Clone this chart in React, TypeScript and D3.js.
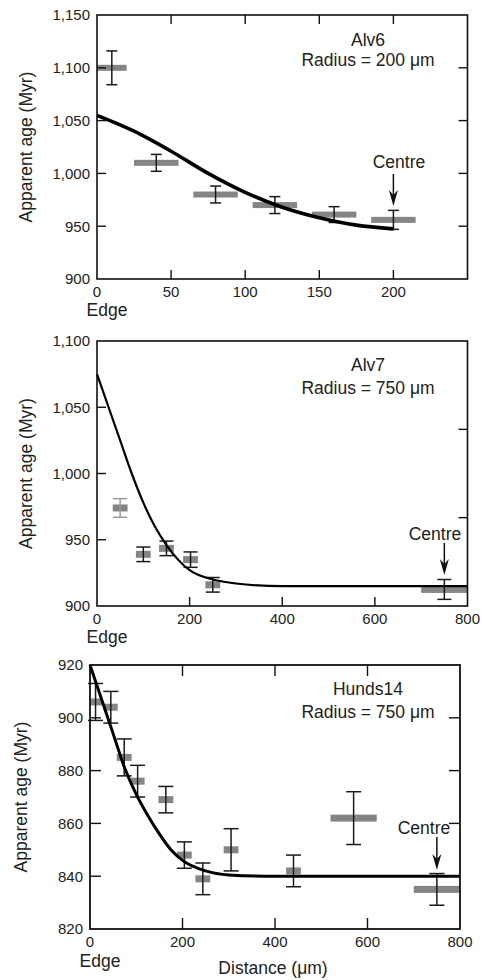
import React from "react";
import * as d3 from "d3";

// ---------- Data: Alv6 ----------
const alv6Distance = [10, 40, 80, 120, 160, 200];
const alv6Age = [1100, 1010, 980, 970, 961, 956];
const alv6Error = [16, 8, 8, 8, 7.5, 9];
const alv6Half = [10, 15, 15, 15, 15, 15];
const alv6FitDistance = [0, 25, 50, 75, 100, 125, 150, 175, 200];
const alv6FitAge = [1055, 1040, 1021, 1000, 982, 968, 958, 951, 947.5];
const alv6YTicks = [900, 950, 1000, 1050, 1100, 1150];
const alv6XTicks = [0, 50, 100, 150, 200];

// ---------- Data: Alv7 ----------
const alv7Distance = [50, 100, 150, 202, 250, 750];
const alv7Age = [974, 939, 943.5, 935, 916, 912.5];
const alv7Error = [7, 5.5, 5.5, 5.8, 5.5, 7.5];
const alv7Half = [16, 16, 16, 16, 16, 50];
const alv7ErrGray = [true, false, false, false, false, false];
const alv7FitDistance = [0, 25, 50, 75, 100, 125, 150, 175, 200, 250, 300, 400, 800];
const alv7FitAge = [1075, 1050, 1025, 1000, 978, 960, 946, 935, 927, 920, 917, 915, 915];
const alv7YTicks = [900, 950, 1000, 1050, 1100];
const alv7XTicks = [0, 200, 400, 600, 800];
const alv7RightTicks = [966.67, 1033.33];

// ---------- Data: Hunds14 ----------
const hundsDistance = [12, 45, 74, 103, 164, 204, 244, 305, 440, 570, 750];
const hundsAge = [906, 904, 885, 876, 869, 848, 839, 850, 842, 862, 835];
const hundsError = [7, 6, 7, 6, 5, 5, 6, 8, 6, 10, 6];
const hundsHalf = [15, 15, 16, 15, 16, 16, 16, 16, 16, 50, 50];
const hundsFitDistance = [0, 25, 50, 75, 100, 125, 150, 175, 200, 250, 300, 400, 800];
const hundsFitAge = [920, 907, 894, 881, 871, 863, 856, 850, 846, 842, 840.5, 840, 840];
const hundsYTicks = [820, 840, 860, 880, 900, 920];
const hundsXTicks = [0, 200, 400, 600, 800];

const FONT = "'Liberation Sans', Arial, Helvetica, sans-serif";
const fmt = d3.format(",");

type PanelProps = {
  left: number; right: number; top: number; bottom: number;
  xDomain: [number, number]; yDomain: [number, number];
  xTicks: number[]; yTicks: number[];
  topMarks: number[]; bottomMarks: number[]; leftMarks: number[]; rightMarks: number[];
  tickLen: number;
  dist: number[]; age: number[]; err: number[]; half: number[]; errGray?: boolean[];
  fitX: number[]; fitY: number[]; fitWidth: number;
  barH: number; capW: number;
  name: string; radius: string; nameY: number; radiusY: number;
  centreX: number; centreTextX: number; centreY: number; arrowTop: number; arrowBottom: number;
  yLabelX: number; edgeX: number; edgeY: number; frameW: number;
};

function Panel(p: PanelProps) {
  const x = d3.scaleLinear().domain(p.xDomain).range([p.left, p.right]);
  const y = d3.scaleLinear().domain(p.yDomain).range([p.bottom, p.top]);
  const line = d3
    .line<number>()
    .x((_, i) => x(p.fitX[i]))
    .y((d) => y(d))
    .curve(d3.curveMonotoneX);
  const clipId = `clip-${p.name}`;
  const ax = x(p.centreX);
  return (
    <g>
      <defs>
        <clipPath id={clipId}>
          <rect x={p.left} y={p.top} width={p.right - p.left} height={p.bottom - p.top} />
        </clipPath>
      </defs>
      {/* bars */}
      <g clipPath={`url(#${clipId})`}>
        {p.dist.map((d, i) => (
          <rect
            key={`b${i}`}
            x={x(d - p.half[i])}
            y={y(p.age[i]) - p.barH / 2}
            width={x(d + p.half[i]) - x(d - p.half[i])}
            height={p.barH}
            fill="#858585"
          />
        ))}
      </g>
      {/* error bars */}
      {p.dist.map((d, i) => {
        const c = p.errGray && p.errGray[i] ? "#9a9a9a" : "#1a1a1a";
        const cx = x(d);
        const yt = y(p.age[i] + p.err[i]);
        const yb = y(p.age[i] - p.err[i]);
        return (
          <g key={`e${i}`} stroke={c} strokeWidth={1.5}>
            <line x1={cx} x2={cx} y1={yt} y2={yb} />
            <line x1={cx - p.capW / 2} x2={cx + p.capW / 2} y1={yt} y2={yt} />
            <line x1={cx - p.capW / 2} x2={cx + p.capW / 2} y1={yb} y2={yb} />
          </g>
        );
      })}
      {/* fit */}
      <path d={line(p.fitY) || ""} fill="none" stroke="#000" strokeWidth={p.fitWidth} />
      {/* frame */}
      <rect x={p.left} y={p.top} width={p.right - p.left} height={p.bottom - p.top} fill="none" stroke="#111" strokeWidth={p.frameW} />
      {/* tick marks */}
      <g stroke="#111" strokeWidth={1.4}>
        {p.topMarks.map((t) => (
          <line key={`tt${t}`} x1={x(t)} x2={x(t)} y1={p.top} y2={p.top + p.tickLen} />
        ))}
        {p.bottomMarks.map((t) => (
          <line key={`tb${t}`} x1={x(t)} x2={x(t)} y1={p.bottom} y2={p.bottom - p.tickLen} />
        ))}
        {p.leftMarks.map((t) => (
          <line key={`tl${t}`} x1={p.left} x2={p.left + p.tickLen} y1={y(t)} y2={y(t)} />
        ))}
        {p.rightMarks.map((t) => (
          <line key={`tr${t}`} x1={p.right} x2={p.right - p.tickLen} y1={y(t)} y2={y(t)} />
        ))}
      </g>
      {/* tick labels */}
      <g fontFamily={FONT} fontSize={15} fill="#222">
        {p.yTicks.map((t) => (
          <text key={`yl${t}`} x={p.left - 7} y={y(t)} dy="0.36em" textAnchor="end">
            {fmt(t)}
          </text>
        ))}
        {p.xTicks.map((t) => (
          <text key={`xl${t}`} x={x(t)} y={p.bottom + 17.5} textAnchor="middle">
            {t}
          </text>
        ))}
      </g>
      {/* labels */}
      <g fontFamily={FONT} fontSize={17.5} fill="#222">
        <text
          transform={`translate(${p.yLabelX},${(p.top + p.bottom) / 2}) rotate(-90)`}
          textAnchor="middle"
        >
          Apparent age (Myr)
        </text>
        <text x={p.edgeX} y={p.edgeY} textAnchor="middle">Edge</text>
        <text x={368} y={p.nameY} textAnchor="middle">{p.name}</text>
        <text x={368} y={p.radiusY} textAnchor="middle">{p.radius}</text>
        <text x={p.centreTextX} y={p.centreY} textAnchor="middle">Centre</text>
      </g>
      {/* arrow */}
      <line x1={ax} x2={ax} y1={p.arrowTop} y2={p.arrowBottom - 8} stroke="#111" strokeWidth={1.5} />
      <path
        d={`M${ax - 4.5},${p.arrowBottom - 16} L${ax},${p.arrowBottom - 11} L${ax + 4.5},${p.arrowBottom - 16} L${ax},${p.arrowBottom} Z`}
        fill="#111"
      />
    </g>
  );
}

function inner(ticks: number[]) {
  return ticks.slice(1, -1);
}

export default function App() {
  return (
    <svg
      width={482}
      height={980}
      style={{ position: "absolute", left: 0, top: 0, background: "#fff" }}
    >
      <rect width={482} height={980} fill="#fff" />
      <Panel
        left={97} right={467.5} top={15} bottom={279}
        xDomain={[0, 250]} yDomain={[900, 1150]}
        xTicks={alv6XTicks} yTicks={alv6YTicks}
        topMarks={alv6XTicks.slice(1)} bottomMarks={alv6XTicks.slice(1)}
        leftMarks={inner(alv6YTicks)} rightMarks={inner(alv6YTicks)}
        tickLen={9}
        dist={alv6Distance} age={alv6Age} err={alv6Error} half={alv6Half}
        fitX={alv6FitDistance} fitY={alv6FitAge} fitWidth={3.6}
        barH={6} capW={11}
        name="Alv6" radius="Radius = 200 μm" nameY={46} radiusY={66}
        centreX={200} centreTextX={399} centreY={168} arrowTop={174} arrowBottom={206}
        yLabelX={32} edgeX={107} edgeY={316} frameW={1.6}
      />
      <Panel
        left={97} right={467.5} top={341} bottom={606}
        xDomain={[0, 800]} yDomain={[900, 1100]}
        xTicks={alv7XTicks} yTicks={alv7YTicks}
        topMarks={[]} bottomMarks={inner(alv7XTicks)}
        leftMarks={inner(alv7YTicks)} rightMarks={alv7RightTicks}
        tickLen={9}
        dist={alv7Distance} age={alv7Age} err={alv7Error} half={alv7Half} errGray={alv7ErrGray}
        fitX={alv7FitDistance} fitY={alv7FitAge} fitWidth={2.2}
        barH={7} capW={14}
        name="Alv7" radius="Radius = 750 μm" nameY={371} radiusY={394}
        centreX={750} centreTextX={435} centreY={540} arrowTop={543} arrowBottom={575}
        yLabelX={32} edgeX={107} edgeY={643} frameW={1.6}
      />
      <Panel
        left={90} right={460} top={665} bottom={929}
        xDomain={[0, 800]} yDomain={[820, 920]}
        xTicks={hundsXTicks} yTicks={hundsYTicks}
        topMarks={inner(hundsXTicks)} bottomMarks={inner(hundsXTicks)}
        leftMarks={inner(hundsYTicks)} rightMarks={inner(hundsYTicks)}
        tickLen={11}
        dist={hundsDistance} age={hundsAge} err={hundsError} half={hundsHalf}
        fitX={hundsFitDistance} fitY={hundsFitAge} fitWidth={3}
        barH={7} capW={15}
        name="Hunds14" radius="Radius = 750 μm" nameY={695} radiusY={718}
        centreX={750} centreTextX={424} centreY={834} arrowTop={837} arrowBottom={870}
        yLabelX={27} edgeX={100} edgeY={967} frameW={1.8}
      />
      <text x={273} y={974} textAnchor="middle" fontFamily={FONT} fontSize={17.5} fill="#222">
        Distance (μm)
      </text>
    </svg>
  );
}
